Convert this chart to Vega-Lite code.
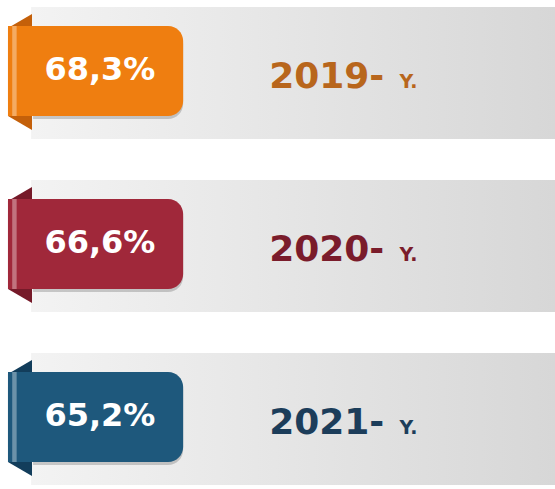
{
  "$schema": "https://vega.github.io/schema/vega-lite/v6.json",
  "width": 555,
  "height": 489,
  "padding": 0,
  "autosize": {"type": "none"},
  "background": "white",
  "config": {
    "view": {"stroke": null},
    "locale": {"number": {"decimal": ",", "thousands": " ", "grouping": [3], "currency": ["", ""]}}
  },
  "data": {"values": [
    {"year": "2019", "share": 0.683},
    {"year": "2020", "share": 0.666},
    {"year": "2021", "share": 0.652}
  ]},
  "encoding": {
    "y": {"field": "year", "type": "nominal", "axis": null,
          "scale": {"range": [7, 485], "paddingInner": 0.237, "paddingOuter": 0}}
  },
  "layer": [
    {
      "mark": {"type": "bar", "color": {"gradient": "linear", "x1": 0, "x2": 1, "y1": 0, "y2": 0,
        "stops": [{"offset": 0, "color": "#f3f3f3"}, {"offset": 1, "color": "#d7d7d7"}]}},
      "encoding": {
        "x": {"datum": 5.6, "type": "quantitative", "scale": {"domain": [0, 100], "nice": false, "zero": false}, "axis": null},
        "x2": {"datum": 100}
      }
    },
    {
      "mark": {"type": "bar", "color": "#000", "opacity": 0.18, "xOffset": 2, "yOffset": 1, "height": {"band": 0.68},
               "cornerRadiusTopRight": 15, "cornerRadiusBottomRight": 15},
      "encoding": {
        "x": {"datum": 5.6, "type": "quantitative", "axis": null},
        "x2": {"datum": 33.0}
      }
    },
    {
      "mark": {"type": "point", "filled": true, "opacity": 1, "strokeWidth": 0, "size": 13456, "yOffset": -1,
               "shape": "M -0.207 -0.76 L 0.207 -1 L 0.207 1 L -0.207 0.76 Z"},
      "encoding": {
        "x": {"datum": 3.6, "type": "quantitative", "axis": null},
        "color": {"field": "year", "type": "nominal", "legend": null,
                  "scale": {"domain": ["2019", "2020", "2021"], "range": ["#c4600a", "#761a29", "#123d5b"]}}
      }
    },
    {
      "mark": {"type": "bar", "height": {"band": 0.68}, "yOffset": -2, "cornerRadiusTopRight": 15, "cornerRadiusBottomRight": 15, "opacity": 1},
      "encoding": {
        "x": {"datum": 1.44, "type": "quantitative", "axis": null},
        "x2": {"datum": 33.0},
        "color": {"field": "year", "type": "nominal", "legend": null,
                  "scale": {"domain": ["2019", "2020", "2021"], "range": ["#ef7e10", "#a0283a", "#1e587c"]}}
      }
    },
    {
      "mark": {"type": "bar", "height": {"band": 0.68}, "yOffset": -2, "color": "#ffffff", "opacity": 0.35},
      "encoding": {
        "x": {"datum": 2.2, "type": "quantitative", "axis": null},
        "x2": {"datum": 3.0}
      }
    },
    {
      "mark": {"type": "text", "font": "DejaVu Sans", "fontWeight": "bold", "fontSize": 32, "color": "#ffffff",
               "align": "center", "baseline": "middle", "dy": -3},
      "encoding": {
        "x": {"datum": 18, "type": "quantitative", "axis": null},
        "text": {"field": "share", "type": "quantitative", "format": ".1%"}
      }
    },
    {
      "mark": {"type": "text", "font": "DejaVu Sans", "fontWeight": "bold", "fontSize": 36,
               "align": "left", "baseline": "alphabetic", "dy": 15, "text": {"expr": "datum.year + '-'"}},
      "encoding": {
        "x": {"datum": 48.5, "type": "quantitative", "axis": null},
        "color": {"field": "year", "type": "nominal", "legend": null,
                  "scale": {"domain": ["2019", "2020", "2021"], "range": ["#b8661c", "#7a1c2b", "#1c3d5a"]}}
      }
    },
    {
      "mark": {"type": "text", "font": "DejaVu Sans", "fontWeight": "bold", "fontSize": 19,
               "align": "left", "baseline": "alphabetic", "dy": 15, "text": "Y."},
      "encoding": {
        "x": {"datum": 72, "type": "quantitative", "axis": null},
        "color": {"field": "year", "type": "nominal", "legend": null,
                  "scale": {"domain": ["2019", "2020", "2021"], "range": ["#b8661c", "#7a1c2b", "#1c3d5a"]}}
      }
    }
  ],
  "resolve": {"scale": {"color": "independent"}}
}
